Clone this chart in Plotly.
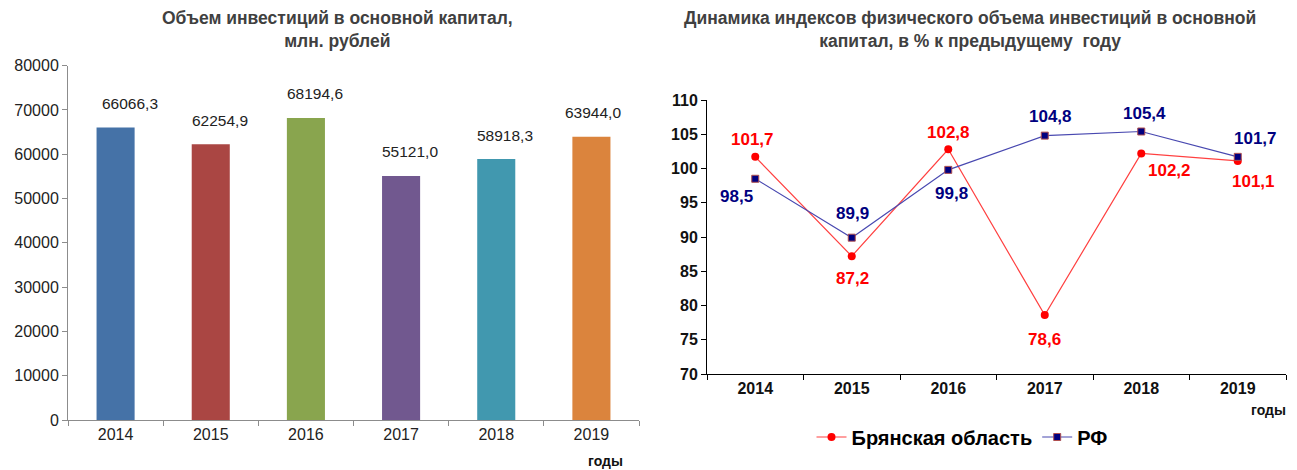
import plotly.graph_objects as go

# ---- data ----
years = ["2014", "2015", "2016", "2017", "2018", "2019"]
invest_values = [66066.3, 62254.9, 68194.6, 55121.0, 58918.3, 63944.0]
invest_labels = ["66066,3", "62254,9", "68194,6", "55121,0", "58918,3", "63944,0"]
bryansk_index = [101.7, 87.2, 102.8, 78.6, 102.2, 101.1]
bryansk_labels = ["101,7", "87,2", "102,8", "78,6", "102,2", "101,1"]
rf_index = [98.5, 89.9, 99.8, 104.8, 105.4, 101.7]
rf_labels = ["98,5", "89,9", "99,8", "104,8", "105,4", "101,7"]

# ---- style ----
bar_colors = ["#4572A7", "#AA4643", "#89A54E", "#71588F", "#4198AF", "#DB843D"]
FONT = "Liberation Sans, Arial, sans-serif"
bar_label_dx = [14, 9, 9, 9, 9, 2]
bry_dx = [-3, 1, 0, 0, 28, 16]
bry_dy = [-17, 22, -17, 24, 17, 21]
rf_dx = [-19, 1, 3, 6, 3, 18]
rf_dy = [18, -24, 24, -19, -18, -18]

fig = go.Figure()

fig.add_trace(go.Bar(
    x=years, y=invest_values, marker=dict(color=bar_colors, line=dict(width=0)),
    width=0.4, showlegend=False, xaxis="x", yaxis="y", hoverinfo="x+y",
))

fig.add_trace(go.Scatter(
    x=years, y=bryansk_index, name="Брянская область", mode="lines+markers",
    line=dict(color="#FF4040", width=1.2),
    marker=dict(symbol="circle", size=8, color="#FF0000"),
    xaxis="x2", yaxis="y2",
))
fig.add_trace(go.Scatter(
    x=years, y=rf_index, name="РФ", mode="lines+markers",
    line=dict(color="#4848B0", width=1.2),
    marker=dict(symbol="square", size=7, color="#000080", line=dict(color="#B05050", width=1)),
    xaxis="x2", yaxis="y2",
))

ann = []
for i, (v, lab) in enumerate(zip(invest_values, invest_labels)):
    ann.append(dict(x=i, y=v, xref="x", yref="y", text=lab, showarrow=False,
                    xshift=bar_label_dx[i], yshift=24,
                    font=dict(family=FONT, size=15.5, color="#222222")))
for i, (v, lab) in enumerate(zip(bryansk_index, bryansk_labels)):
    ann.append(dict(x=i, y=v, xref="x2", yref="y2", text=f"<b>{lab}</b>", showarrow=False,
                    xshift=bry_dx[i], yshift=-bry_dy[i],
                    font=dict(family=FONT, size=17, color="#FF0000")))
for i, (v, lab) in enumerate(zip(rf_index, rf_labels)):
    ann.append(dict(x=i, y=v, xref="x2", yref="y2", text=f"<b>{lab}</b>", showarrow=False,
                    xshift=rf_dx[i], yshift=-rf_dy[i],
                    font=dict(family=FONT, size=17, color="#000080")))

W, H = 1297, 470
def paper_text(px, py, text, size, color):
    return dict(x=px / W, y=1 - py / H, xref="paper", yref="paper", showarrow=False,
                xanchor="center", yanchor="middle", text=text,
                font=dict(family=FONT, size=size, color=color))

ann.append(paper_text(337, 30, "<b>Объем инвестиций в основной капитал,<br>млн. рублей</b>", 17.5, "#404040"))
ann.append(paper_text(970, 30, "<b>Динамика индексов физического объема инвестиций в основной<br>капитал, в % к предыдущему  году</b>", 17.5, "#404040"))
ann.append(paper_text(605, 461, "<b>годы</b>", 14, "#111111"))
ann.append(paper_text(1268, 410, "<b>годы</b>", 14, "#111111"))

fig.update_layout(
    template="none",
    width=W, height=H,
    margin=dict(l=0, r=0, t=0, b=0, pad=0),
    paper_bgcolor="white", plot_bgcolor="white",
    annotations=ann,
    showlegend=True,
    legend=dict(orientation="h", x=962 / W, y=1 - 437 / H, xanchor="center", yanchor="middle",
                font=dict(family=FONT, size=20, color="#000000", weight="bold"),
                itemwidth=30, tracegroupgap=0, bgcolor="rgba(0,0,0,0)"),
    xaxis=dict(domain=[68 / W, 639 / W], anchor="y", type="category", range=[-0.5, 5.5],
               automargin=False, showline=True, linecolor="#8C8C8C", linewidth=1,
               ticks="outside", tickson="boundaries", ticklen=5, tickcolor="#8C8C8C",
               showgrid=False, tickfont=dict(family=FONT, size=16, color="#222222")),
    yaxis=dict(domain=[1 - 420 / H, 1 - 65.7 / H], anchor="x", range=[0, 80000],
               automargin=False, dtick=10000, showline=True, linecolor="#8C8C8C", linewidth=1,
               ticks="outside", ticklen=5, tickcolor="#8C8C8C", showgrid=False,
               zeroline=False, tickformat="d",
               tickfont=dict(family=FONT, size=16, color="#222222")),
    xaxis2=dict(domain=[707 / W, 1286 / W], anchor="y2", type="category", range=[-0.5, 5.5],
                automargin=False, showline=True, linecolor="#000000", linewidth=1,
                ticks="outside", tickson="boundaries", ticklen=5, tickcolor="#000000",
                showgrid=False, tickfont=dict(family=FONT, size=16, color="#111111", weight="bold")),
    yaxis2=dict(domain=[1 - 374 / H, 1 - 100 / H], anchor="x2", range=[70, 110],
                automargin=False, dtick=5, showline=True, linecolor="#000000", linewidth=1,
                ticks="outside", ticklen=5, tickcolor="#000000", showgrid=False,
                zeroline=False,
                tickfont=dict(family=FONT, size=16, color="#111111", weight="bold")),
)

fig.write_html("out.html", config={"displayModeBar": False},
               post_script="document.body.style.margin='0px';document.body.style.overflow='hidden';")
